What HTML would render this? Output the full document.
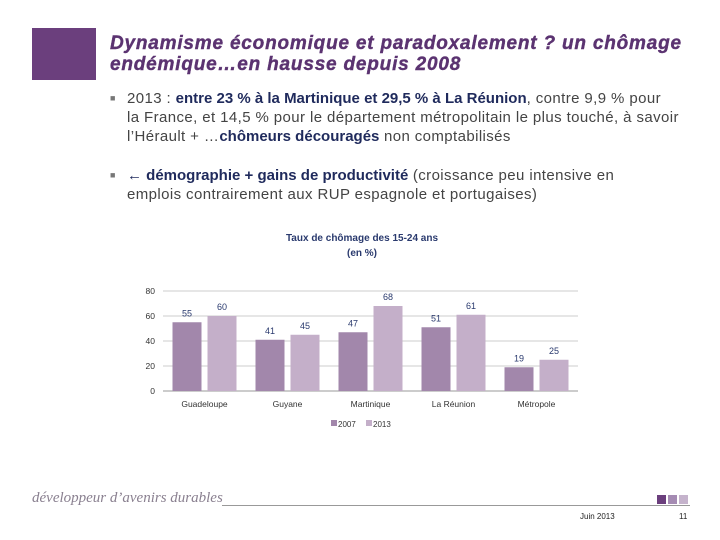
<!DOCTYPE html>
<html><head><meta charset="utf-8"><style>
body{margin:0;width:720px;height:540px;background:#fff;position:relative;overflow:hidden;font-family:"Liberation Sans",sans-serif}
.abs{position:absolute}
.title{left:110px;top:33px;font:bold italic 19px/21px "Liberation Sans",sans-serif;color:#5b3371;letter-spacing:0.8px;white-space:nowrap;-webkit-text-stroke:0.4px #5b3371}
.bul{left:110px;width:600px;font-size:15px;line-height:19px;color:#444;white-space:nowrap;letter-spacing:0.4px}
.bul b{color:#1f2a5c;letter-spacing:0}
</style></head><body>
<div class="abs" style="left:32px;top:28px;width:64px;height:52px;background:#6b3f7d"></div>
<div class="abs title">Dynamisme économique et paradoxalement ? un chômage<br>endémique…en hausse depuis 2008</div>
<div class="abs bul" style="top:89px"><span style="position:absolute;left:0;font-size:9px;color:#777">■</span><div style="padding-left:17px">2013 : <b>entre 23 % à la Martinique et 29,5 % à La Réunion</b>, contre 9,9 % pour<br>la France, et 14,5 % pour le département métropolitain le plus touché, à savoir<br>l’Hérault + …<b>chômeurs découragés</b> non comptabilisés</div></div>
<div class="abs bul" style="top:166px"><span style="position:absolute;left:0;font-size:9px;color:#777">■</span><div style="padding-left:17px"><b>← démographie + gains de productivité</b> (croissance peu intensive en<br>emplois contrairement aux RUP espagnole et portugaises)</div></div>
<svg class="abs" style="left:0;top:0" width="720" height="540" id="chart"></svg>
<div class="abs" style="left:32px;top:490px;font:italic 15px 'Liberation Serif',serif;color:#8a8090">développeur d’avenirs durables</div>
<div class="abs" style="left:222px;top:505px;width:468px;height:1px;background:#999"></div>
<div class="abs" style="left:657px;top:495px;width:9px;height:9px;background:#6b3f7d"></div>
<div class="abs" style="left:668px;top:495px;width:9px;height:9px;background:#a58bb3"></div>
<div class="abs" style="left:679px;top:495px;width:9px;height:9px;background:#c5b3cc"></div>
<div class="abs" style="left:580px;top:512px;font-size:8px;color:#222">Juin 2013</div>
<div class="abs" style="left:679px;top:512px;font-size:8px;color:#222">11</div>
<script>
const categories=["Guadeloupe","Guyane","Martinique","La Réunion","Métropole"];
const values2007=[55,41,47,51,19];
const values2013=[60,45,68,61,25];
const yTicks=[0,20,40,60,80];
const NS="http://www.w3.org/2000/svg";
const svg=document.getElementById('chart');
const x0=163,x1=578,yb=391,yt=291,ymax=80;
const step=(x1-x0)/categories.length;
const y=v=>yb-(v/ymax)*(yb-yt);
function mk(t,a,txt){const e=document.createElementNS(NS,t);for(const k in a)e.setAttribute(k,a[k]);if(txt!==undefined)e.textContent=txt;svg.appendChild(e);return e;}
let e=mk('text',{x:362,y:241,'text-anchor':'middle','font-size':10,'font-weight':'bold',fill:'#2a3a6e','font-family':'Liberation Sans'},'Taux de chômage des 15-24 ans');

e=mk('text',{x:362,y:256,'text-anchor':'middle','font-size':10,'font-weight':'bold',fill:'#2a3a6e','font-family':'Liberation Sans'},'(en %)');

yTicks.forEach(t=>{
 const g=mk('line',{x1:x0,x2:x1,y1:y(t),y2:y(t),stroke:t===0?'#999':'#ccc','stroke-width':1});
 
 const l=mk('text',{x:155,y:y(t)+3,'text-anchor':'end','font-size':8.5,fill:'#333','font-family':'Liberation Sans'},t);
 
});
categories.forEach((c,i)=>{
 const cx=x0+step*(i+0.5);
 [[values2007[i],'#a287ab',cx-32],[values2013[i],'#c4afc9',cx+3]].forEach(([v,col,bx],j)=>{
  const r=mk('rect',{x:bx,y:y(v),width:29,height:yb-y(v),fill:col});
  
  const t=mk('text',{x:bx+14.5,y:y(v)-6,'text-anchor':'middle','font-size':9,fill:'#2a3a6e','font-family':'Liberation Sans'},v);
  
 });
 const l=mk('text',{x:cx,y:407,'text-anchor':'middle','font-size':8.5,fill:'#333','font-family':'Liberation Sans'},c);
 
});
[['2007','#a287ab',331],['2013','#c4afc9',366]].forEach(([n,col,lx])=>{
 const r=mk('rect',{x:lx,y:420,width:6,height:6,fill:col});
 
 const t=mk('text',{x:lx+7,y:427,'font-size':8,fill:'#333','font-family':'Liberation Sans'},n);
 
});
</script>
</body></html>
